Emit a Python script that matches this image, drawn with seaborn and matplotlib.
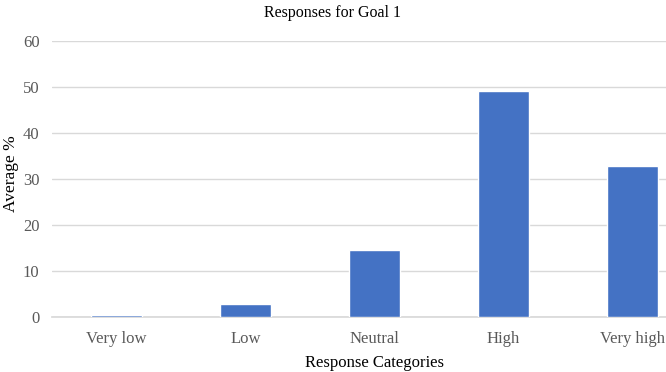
import matplotlib
matplotlib.use("Agg")
import matplotlib.pyplot as plt
import seaborn as sns
import pandas as pd

categories = ["Very low", "Low", "Neutral", "High", "Very high"]
values = [0.4, 2.8, 14.5, 49.1, 32.8]
yticks = [0, 10, 20, 30, 40, 50, 60]

sns.set_theme(style="white")
plt.rcParams['font.family'] = ['Liberation Serif', 'DejaVu Serif']

df = pd.DataFrame({"cat": categories, "val": values})

fig = plt.figure(figsize=(6.66, 3.72), dpi=100)
ax = fig.add_axes([52/666, (372-317)/372, (697-52)/666, (317-41)/372])
sns.barplot(data=df, x="cat", y="val", color="#4472C4", width=0.4, saturation=1, ax=ax, zorder=3)
ax.set_ylim(0, 60)
ax.set_yticks(yticks)
ax.set_xlim(-0.5, 4.5)
ax.yaxis.grid(True, color="#d9d9d9", linewidth=1)
for s in ["top", "right", "left"]:
    ax.spines[s].set_visible(False)
ax.spines["bottom"].set_color("#d9d9d9")
ax.tick_params(axis="both", length=0, labelsize=12, colors="#595959")
ax.tick_params(axis="y", pad=9)
ax.tick_params(axis="x", pad=10)
ax.set_xlabel("Response Categories", fontsize=12, color="#000000", labelpad=6)
ax.set_ylabel("")
fig.text(11/666, 1 - 174/372, "Average %", rotation=90, ha="center", va="center", fontsize=12.5, color="#000000")
fig.text(333/666, 1 - 13/372, "Responses for Goal 1", ha="center", va="center", fontsize=11.5, color="#000000")
fig.savefig("out.png", dpi=100)
